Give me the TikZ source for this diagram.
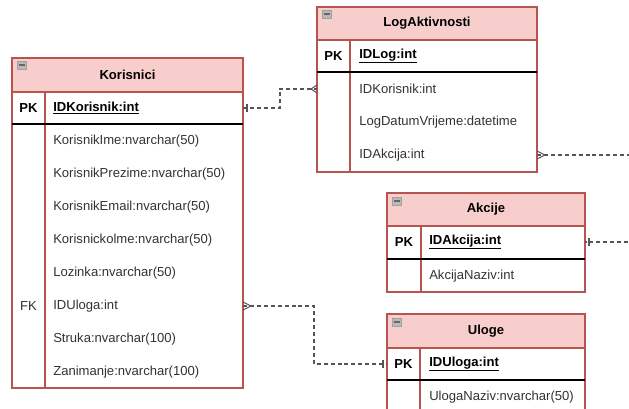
\documentclass[tikz,border=0pt]{standalone}
\usepackage{fontspec}
\setmainfont{Liberation Sans}
\usetikzlibrary{calc}

\definecolor{hdrfill}{HTML}{F8CECC}
\definecolor{hdrline}{HTML}{B85450}
\definecolor{reldraw}{HTML}{555555}

\tikzset{
  hdr/.style={fill=hdrfill, draw=hdrline, line width=1pt},
  body/.style={fill=white, draw=hdrline, line width=1pt},
  coldiv/.style={draw=hdrline, line width=0.8pt},
  pkline/.style={draw=black, line width=0.8pt},
  icon/.style={fill=gray!55, draw=gray!75, line width=0.5pt},
  title/.style={font=\fontsize{9.8}{11}\selectfont\bfseries, inner sep=0pt},
  key/.style={font=\fontsize{9.8}{11}\selectfont\bfseries, inner sep=0pt},
  fld/.style={anchor=west, font=\fontsize{9.8}{11}\selectfont, text=black!80, inner sep=0pt},
  pkfld/.style={anchor=west, font=\fontsize{9.8}{11}\selectfont\bfseries, inner sep=0pt},
  rel/.style={draw=reldraw, line width=0.8pt, dash pattern=on 3pt off 2.2pt},
  relmark/.style={draw=reldraw, line width=0.8pt}
}

\begin{document}
\begin{tikzpicture}[x=0.75pt, y=-0.75pt, line join=miter]
  \clip (0,0) rectangle (629,409);

  % Korisnici
  \draw[hdr] (12,58) rectangle (243,92);
  \draw[body] (12,92) rectangle (243,388);
  \draw[coldiv] (45,92) -- (45,388);
  \draw[pkline] (12,124) -- (243,124);
  \draw[icon] (17,61) rectangle (26,69);
  \draw[black!60, line width=1pt] (18.5,65) -- (24.5,65);
  \node[title] (korT) at (127.5,75) {Korisnici};
  \node[key] (korK) at (28.5,108) {PK};
  \node[pkfld] (korP) at (53,108) {\underline{IDKorisnik:int}};
  \foreach \t [count=\i] in {KorisnikIme:nvarchar(50),KorisnikPrezime:nvarchar(50),
      KorisnikEmail:nvarchar(50),Korisnickolme:nvarchar(50),Lozinka:nvarchar(50),
      IDUloga:int,Struka:nvarchar(100),Zanimanje:nvarchar(100)}
    \node[fld] (kor\i) at (53,{141+33*(\i-1)}) {\t};
  \node[fld, anchor=center] (korFK) at (28.5,306) {FK};

  % LogAktivnosti
  \draw[hdr] (317,7) rectangle (537,40);
  \draw[body] (317,40) rectangle (537,172);
  \draw[coldiv] (350,40) -- (350,172);
  \draw[pkline] (317,72) -- (537,72);
  \draw[icon] (322,10) rectangle (331,18);
  \draw[black!60, line width=1pt] (323.5,14) -- (329.5,14);
  \node[title] (logT) at (427,23) {LogAktivnosti};
  \node[key] (logK) at (333.5,56) {PK};
  \node[pkfld] (logP) at (359,56) {\underline{IDLog:int}};
  \foreach \t [count=\i] in {IDKorisnik:int,LogDatumVrijeme:datetime,IDAkcija:int}
    \node[fld] (log\i) at (359,{89+33*(\i-1)}) {\t};

  % Akcije
  \draw[hdr] (387,193) rectangle (585,226);
  \draw[body] (387,226) rectangle (585,292);
  \draw[coldiv] (421,226) -- (421,292);
  \draw[pkline] (387,259) -- (585,259);
  \draw[icon] (392,197) rectangle (401,205);
  \draw[black!60, line width=1pt] (393.5,201) -- (399.5,201);
  \node[title] (akcT) at (486,209) {Akcije};
  \node[key] (akcK) at (404,242) {PK};
  \node[pkfld] (akcP) at (429,242) {\underline{IDAkcija:int}};
  \node[fld] (akc1) at (429,276) {AkcijaNaziv:int};

  % Uloge
  \draw[hdr] (387,314) rectangle (585,348);
  \draw[body] (387,348) rectangle (585,440);
  \draw[coldiv] (420,348) -- (420,440);
  \draw[pkline] (387,380) -- (585,380);
  \draw[icon] (392,318) rectangle (401,326);
  \draw[black!60, line width=1pt] (393.5,322) -- (399.5,322);
  \node[title] (ulT) at (486,331) {Uloge};
  \node[key] (ulK) at (403.5,364) {PK};
  \node[pkfld] (ulP) at (429,364) {\underline{IDUloga:int}};
  \node[fld] (ul1) at (429,397) {UlogaNaziv:nvarchar(50)};

  % connector end points
  \coordinate (korPK) at (243,108);
  \coordinate (korUl) at (243,306);
  \coordinate (logKor) at (317,89);
  \coordinate (logAkc) at (537,155);
  \coordinate (akcPK) at (585,242);
  \coordinate (ulPK) at (387,364);
  \coordinate (farR) at (650,0);

  % Korisnici -- LogAktivnosti
  \draw[rel] (korPK) -- ++(37,0) |- (logKor);
  \draw[relmark] ($(korPK)+(4,-4)$) -- ++(0,8);
  \draw[relmark] ($(logKor)+(0,-4)$) -- ($(logKor)+(-6,0)$) -- ($(logKor)+(0,4)$);

  % LogAktivnosti -- Akcije (routed beyond the right edge)
  \draw[rel] (logAkc) -- (logAkc -| farR) |- (akcPK);
  \draw[relmark] ($(logAkc)+(0,-4)$) -- ($(logAkc)+(8,0)$) -- ($(logAkc)+(0,4)$);
  \draw[relmark] ($(akcPK)+(4,-4)$) -- ++(0,8);

  % Korisnici -- Uloge
  \draw[rel] (korUl) -- ++(71,0) |- (ulPK);
  \draw[relmark] ($(korUl)+(0,-4)$) -- ($(korUl)+(8,0)$) -- ($(korUl)+(0,4)$);
  \draw[relmark] ($(ulPK)+(-4,-4)$) -- ++(0,8);
\end{tikzpicture}
\end{document}
